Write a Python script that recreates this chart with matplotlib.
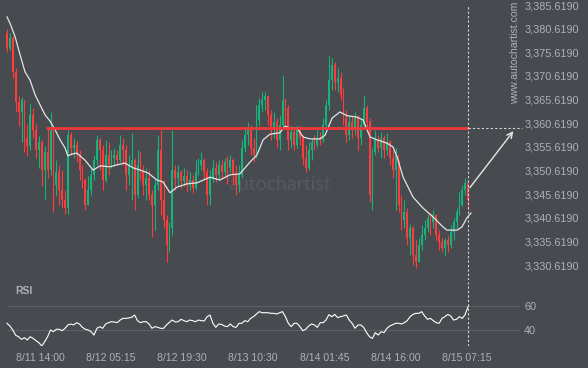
import numpy as np
import matplotlib
matplotlib.use("Agg")
import matplotlib.pyplot as plt

# 15-min style candles (one entry per drawn candle), prices
opens = [3379.7, 3376.5, 3378.6, 3371.5, 3365.1, 3363.0, 3365.5, 3357.5, 3355.8, 3362.4,
         3359.2, 3355.0, 3356.6, 3350.7, 3354.5, 3350.7, 3359.2, 3347.6, 3350.3, 3346.5,
         3344.4, 3342.7, 3358.1, 3355.4, 3356.0, 3353.9, 3350.7, 3348.6, 3343.3, 3346.5,
         3349.7, 3352.8, 3357.1, 3355.0, 3348.6, 3353.9, 3351.8, 3353.3, 3353.9, 3352.8,
         3356.0, 3355.0, 3349.7, 3351.8, 3352.8, 3345.4, 3351.8, 3350.3, 3347.6, 3349.0,
         3345.4, 3343.3, 3347.6, 3355.0, 3344.4, 3340.2, 3334.9, 3338.5, 3350.7, 3349.0,
         3350.3, 3348.4, 3349.5, 3347.6, 3348.6, 3346.9, 3350.3, 3351.8, 3352.8, 3350.3,
         3345.4, 3349.0, 3351.2, 3349.7, 3351.8, 3350.3, 3352.4, 3351.2, 3352.8, 3349.7,
         3347.6, 3349.7, 3355.4, 3358.1, 3359.6, 3355.4, 3353.9, 3361.3, 3364.5, 3365.5,
         3366.4, 3362.4, 3359.2, 3360.9, 3357.1, 3360.2, 3365.5, 3363.8, 3357.1, 3358.8,
         3356.0, 3359.2, 3357.5, 3353.3, 3351.2, 3355.0, 3356.6, 3356.0, 3357.5, 3357.1,
         3360.2, 3364.5, 3369.8, 3372.9, 3369.3, 3370.2, 3366.6, 3361.7, 3358.1, 3360.9,
         3359.2, 3361.7, 3357.5, 3360.2, 3363.8, 3360.9, 3345.4, 3354.5, 3357.1, 3355.4,
         3357.5, 3355.0, 3356.6, 3353.3, 3350.7, 3353.9, 3343.3, 3340.2, 3341.8, 3336.3,
         3338.5, 3332.8, 3331.3, 3334.9, 3337.0, 3338.5, 3340.6, 3339.7, 3341.2, 3337.0,
         3335.5, 3334.2, 3335.9, 3334.9, 3337.6, 3339.7, 3341.8, 3343.3, 3346.5, 3347.9]
closes = [3376.5, 3378.6, 3371.5, 3365.1, 3363.0, 3365.5, 3357.5, 3355.8, 3362.4, 3359.2,
          3355.0, 3356.6, 3350.7, 3354.5, 3350.7, 3359.2, 3347.6, 3350.3, 3346.5, 3344.4,
          3342.7, 3358.1, 3355.4, 3356.0, 3353.9, 3350.7, 3348.6, 3343.3, 3346.5, 3349.7,
          3352.8, 3357.1, 3355.0, 3348.6, 3353.9, 3351.8, 3353.3, 3353.9, 3352.8, 3356.0,
          3355.0, 3349.7, 3351.8, 3352.8, 3345.4, 3351.8, 3350.3, 3347.6, 3349.0, 3345.4,
          3343.3, 3347.6, 3355.0, 3344.4, 3340.2, 3334.9, 3338.5, 3350.7, 3349.0, 3350.3,
          3348.4, 3349.5, 3347.6, 3348.6, 3346.9, 3350.3, 3351.8, 3352.8, 3350.3, 3345.4,
          3349.0, 3351.2, 3349.7, 3351.8, 3350.3, 3352.4, 3351.2, 3352.8, 3349.7, 3347.6,
          3349.7, 3355.4, 3358.1, 3359.6, 3355.4, 3353.9, 3361.3, 3364.5, 3365.5, 3366.4,
          3362.4, 3359.2, 3360.9, 3357.1, 3360.2, 3365.5, 3363.8, 3357.1, 3358.8, 3356.0,
          3359.2, 3357.5, 3353.3, 3351.2, 3355.0, 3356.6, 3356.0, 3357.5, 3357.1, 3360.2,
          3364.5, 3369.8, 3372.9, 3369.3, 3370.2, 3366.6, 3361.7, 3358.1, 3360.9, 3359.2,
          3361.7, 3357.5, 3360.2, 3363.8, 3360.9, 3345.4, 3354.5, 3357.1, 3355.4, 3357.5,
          3355.0, 3356.6, 3353.3, 3350.7, 3353.9, 3343.3, 3340.2, 3341.8, 3336.3, 3338.5,
          3332.8, 3331.3, 3334.9, 3337.0, 3338.5, 3340.6, 3339.7, 3341.2, 3337.0, 3335.5,
          3334.2, 3335.9, 3334.9, 3337.6, 3339.7, 3341.8, 3343.3, 3346.5, 3347.9, 3344.4]
highs = [3380.5, 3379.7, 3379.1, 3372.3, 3366.4, 3366.2, 3365.5, 3360.5, 3364.7, 3363.8,
         3360.5, 3357.9, 3357.1, 3355.8, 3359.6, 3363.0, 3359.6, 3352.8, 3351.8, 3350.7,
         3346.5, 3359.2, 3358.8, 3357.5, 3357.1, 3355.0, 3351.8, 3349.0, 3349.5, 3351.2,
         3353.9, 3358.1, 3357.5, 3356.0, 3357.1, 3356.6, 3355.0, 3355.4, 3355.0, 3358.1,
         3357.5, 3356.0, 3353.9, 3358.6, 3353.3, 3355.0, 3354.5, 3351.8, 3351.2, 3350.7,
         3346.5, 3348.6, 3358.1, 3359.2, 3348.6, 3341.2, 3339.7, 3359.2, 3351.8, 3351.8,
         3350.7, 3351.2, 3350.7, 3350.3, 3349.7, 3352.8, 3353.3, 3354.5, 3353.3, 3351.2,
         3350.7, 3352.8, 3352.4, 3352.8, 3352.8, 3353.3, 3353.7, 3353.9, 3353.3, 3351.8,
         3351.8, 3357.1, 3359.6, 3360.9, 3360.2, 3357.5, 3364.5, 3365.9, 3367.2, 3367.2,
         3365.9, 3363.4, 3363.0, 3361.7, 3362.4, 3370.8, 3365.9, 3364.5, 3360.0, 3359.6,
         3360.2, 3360.0, 3358.1, 3356.0, 3356.6, 3357.5, 3358.1, 3359.2, 3358.8, 3361.7,
         3365.5, 3375.0, 3374.4, 3373.6, 3372.3, 3371.5, 3368.1, 3363.4, 3362.4, 3362.4,
         3363.0, 3362.4, 3361.7, 3366.6, 3364.5, 3361.7, 3355.4, 3359.2, 3358.1, 3358.8,
         3358.1, 3358.6, 3357.1, 3355.0, 3355.4, 3352.8, 3345.4, 3344.4, 3342.7, 3339.3,
         3338.9, 3335.9, 3336.3, 3339.1, 3340.2, 3341.4, 3341.8, 3342.3, 3341.4, 3338.0,
         3336.3, 3336.3, 3336.8, 3339.1, 3340.6, 3342.7, 3346.1, 3347.6, 3349.0, 3347.9]
lows = [3375.7, 3376.1, 3370.2, 3363.0, 3360.0, 3356.6, 3354.5, 3353.7, 3355.0, 3357.5,
        3353.3, 3351.2, 3347.3, 3344.4, 3349.0, 3349.7, 3341.8, 3345.2, 3343.3, 3342.7,
        3341.4, 3341.4, 3353.9, 3353.3, 3352.4, 3348.6, 3346.9, 3342.3, 3343.3, 3345.4,
        3348.6, 3351.8, 3350.7, 3346.5, 3348.2, 3349.7, 3351.2, 3351.6, 3351.8, 3352.4,
        3351.8, 3346.5, 3347.6, 3344.4, 3342.3, 3344.8, 3348.6, 3345.4, 3344.4, 3344.4,
        3336.6, 3338.0, 3346.5, 3341.2, 3338.5, 3331.3, 3333.4, 3337.0, 3346.5, 3347.3,
        3346.9, 3347.3, 3346.1, 3346.5, 3345.9, 3346.5, 3349.7, 3350.7, 3349.0, 3343.3,
        3343.3, 3348.2, 3348.2, 3348.6, 3349.0, 3349.5, 3347.8, 3350.3, 3347.6, 3345.4,
        3346.1, 3349.0, 3354.5, 3356.0, 3353.9, 3352.4, 3353.3, 3360.2, 3363.0, 3363.4,
        3360.2, 3357.1, 3357.5, 3355.4, 3355.0, 3359.6, 3360.2, 3355.0, 3355.4, 3355.0,
        3355.4, 3356.0, 3351.8, 3350.3, 3350.7, 3352.8, 3355.0, 3355.4, 3356.0, 3356.6,
        3359.6, 3363.4, 3367.6, 3367.6, 3367.2, 3365.5, 3360.2, 3356.6, 3357.1, 3357.5,
        3358.1, 3355.0, 3356.0, 3359.6, 3358.8, 3343.9, 3342.3, 3353.9, 3354.5, 3353.3,
        3353.3, 3353.9, 3351.8, 3349.0, 3342.3, 3341.8, 3338.0, 3338.5, 3334.9, 3332.8,
        3330.6, 3330.0, 3331.3, 3333.8, 3335.9, 3337.6, 3337.0, 3338.5, 3335.9, 3333.8,
        3333.4, 3332.5, 3333.4, 3334.2, 3335.9, 3338.5, 3341.2, 3343.1, 3345.4, 3342.3]

# moving average (white line), read as (bar, price) points
ma_bar = [0.0, 1.0, 2.8, 4.5, 6.2, 7.9, 9.7, 11.4, 13.1, 14.8, 16.6, 18.3, 20.0, 21.0, 22.4,
          24.1, 26.9, 29.7, 32.1, 35.5, 37.9, 40.7, 43.4, 45.9, 48.6, 51.7, 53.8, 56.2, 58.6,
          62.1, 65.5, 70.0, 73.4, 76.9, 80.3, 83.8, 86.2, 88.3, 90.7, 94.1, 95.9, 97.6, 100.0,
          102.1, 104.5, 107.9, 109.7, 112.1, 114.8, 117.2, 120.7, 122.8, 125.2, 127.6, 131.0,
          133.1, 134.5, 136.6, 140.0, 143.4, 146.9, 150.3, 151.7, 155.2, 156.9, 158.6, 160.0]
ma_price = [3383.1, 3381.8, 3378.9, 3375.1, 3371.5, 3369.8, 3366.6, 3364.5, 3362.4, 3361.1,
            3359.2, 3357.1, 3355.4, 3353.7, 3354.1, 3354.3, 3352.8, 3350.7, 3351.6, 3351.4,
            3351.8, 3352.2, 3351.2, 3350.7, 3350.1, 3348.6, 3348.2, 3345.9, 3347.1, 3347.8,
            3348.0, 3349.2, 3348.6, 3349.7, 3349.9, 3352.4, 3353.9, 3357.1, 3358.3, 3358.6,
            3360.0, 3359.6, 3359.6, 3357.7, 3357.3, 3357.3, 3358.1, 3361.7, 3363.0, 3362.2,
            3361.9, 3361.3, 3357.7, 3357.1, 3356.4, 3355.6, 3353.5, 3349.2, 3345.0, 3342.7,
            3340.8, 3338.7, 3338.0, 3338.0, 3338.7, 3340.6, 3341.6]

rsi = [45.6, 43.3, 40.0, 35.6, 34.4, 32.2, 33.6, 31.7, 34.4, 33.0,
       31.1, 29.4, 26.7, 30.3, 34.4, 40.0, 38.6, 40.6, 40.6, 39.4,
       41.4, 44.2, 45.0, 44.2, 46.1, 45.0, 42.2, 40.6, 40.0, 38.6,
       35.8, 41.4, 42.8, 41.4, 45.0, 46.1, 46.9, 46.7, 46.1, 48.3,
       49.7, 49.7, 50.0, 50.6, 52.5, 47.8, 46.1, 46.9, 46.9, 45.0,
       41.4, 42.8, 42.2, 41.4, 41.4, 44.2, 46.4, 48.3, 46.7, 46.9,
       48.9, 47.8, 46.9, 48.3, 47.8, 46.9, 48.3, 47.8, 47.5, 51.1,
       52.5, 45.6, 42.2, 45.0, 44.7, 43.3, 42.8, 45.0, 42.8, 42.2,
       45.6, 45.6, 47.8, 46.9, 49.7, 51.1, 53.3, 55.3, 54.4, 54.4,
       54.4, 53.9, 53.9, 53.3, 54.4, 55.3, 51.1, 45.6, 42.8, 45.6,
       45.6, 42.8, 39.4, 40.6, 43.3, 45.0, 44.2, 42.2, 46.1, 46.1,
       48.3, 52.8, 51.1, 53.0, 50.3, 51.1, 51.7, 52.5, 48.3, 45.6,
       41.4, 44.2, 44.2, 42.2, 37.8, 34.4, 33.0, 37.8, 35.8, 38.6,
       37.8, 41.4, 43.3, 44.4, 45.6, 45.6, 45.0, 46.1, 47.8, 51.1,
       53.0, 53.9, 53.9, 55.3, 51.7, 48.9, 49.7, 47.8, 46.1, 45.6,
       49.7, 51.1, 53.0, 51.7, 48.3, 48.9, 51.1, 49.7, 53.0, 59.5]

level = 3359.6
level_start_bar = 13.4
target_bar = 175.2
date_labels = ["8/11 14:00", "8/12 05:15", "8/12 19:30", "8/13 10:30",
               "8/14 01:45", "8/14 16:00", "8/15 07:15"]
date_bars = [11.4, 35.9, 60.3, 84.8, 109.7, 134.1, 158.6]
price_ticks = [3330.619 + 5 * i for i in range(12)]

BG = "#474a4f"
RED = "#ff3b3b"
GREEN = "#13b57a"
TXT = "#aeb1b6"
GRID = "#5d6166"

plt.rcParams["font.family"] = ["Liberation Sans", "DejaVu Sans"]

W, H = 588, 368
fig = plt.figure(figsize=(W / 100, H / 100), dpi=100, facecolor=BG)
ax = fig.add_axes([0, 1 - 280 / H, 520 / W, 280 / H], facecolor=BG)
rax = fig.add_axes([0, 1 - 346 / H, 520 / W, 64 / H], facecolor=BG)

x = np.arange(len(closes))
o = np.array(opens)
c = np.array(closes)
cols = np.where(c >= o, GREEN, RED)

xlim = (-7 / 2.9, 513 / 2.9)
for a in (ax, rax):
    a.set_xlim(*xlim)
    for s in a.spines.values():
        s.set_visible(False)

# candles
ax.vlines(x, lows, highs, colors=cols, lw=0.8, zorder=2)
ax.bar(x, np.maximum(np.abs(c - o), 0.2), bottom=np.minimum(o, c), width=0.62,
       color=cols, linewidth=0, zorder=3)

# MA
ax.plot(ma_bar, ma_price, color="#e4e4e4", lw=0.9, zorder=4)

# resistance level
ax.hlines(level, level_start_bar, x[-1], color="#f0393c", lw=2, zorder=5)
ax.hlines(level, x[-1], target_bar + 2.4, color="#d8d8d8", lw=0.8,
          linestyles=(0, (2, 2)), clip_on=False, zorder=5)
ax.axvline(x[-1], ymin=0, ymax=1 - 5 / 280, color="#d8d8d8", lw=0.8,
           ls=(0, (2, 2)), zorder=5)
ax.annotate("", xy=(target_bar, level - 0.2), xytext=(x[-1], closes[-1] + 2.1),
            arrowprops=dict(arrowstyle="->", color="#e6e6e6", lw=1, mutation_scale=10),
            zorder=6)

ax.set_ylim(3327.45, 3386.68)
ax.yaxis.tick_right()
ax.set_yticks(price_ticks)
ax.set_yticklabels([f"{v:,.4f}" for v in price_ticks])
ax.tick_params(axis="y", length=0, pad=3, labelsize=7.8, labelcolor=TXT)
ax.set_xticks([])

# watermark
ax.text(280 / 520, 1 - 185 / 280, "autochartist", transform=ax.transAxes,
        ha="center", va="center", fontsize=14, color="#56595e",
        family=["Lato", "DejaVu Sans"], zorder=1)
fig.text(515 / W, 1 - 2 / H, "www.autochartist.com", rotation=90, ha="center",
         va="top", fontsize=7.6, color=TXT)

# RSI panel
rax.set_ylim(26.67, 80)
rax.hlines([40, 60], 0, xlim[1], color=GRID, lw=0.8)
rax.plot(x, rsi, color="white", lw=0.8)
rax.axvline(x[-1], color="#d8d8d8", lw=0.8, ls=(0, (2, 2)))
rax.yaxis.tick_right()
rax.set_yticks([40, 60])
rax.tick_params(axis="y", length=0, pad=3, labelsize=7.8, labelcolor=TXT)
rax.set_xticks(date_bars)
rax.set_xticklabels(date_labels)
rax.tick_params(axis="x", length=0, pad=5, labelsize=7.6, labelcolor=TXT)
fig.text(15 / W, 1 - 291 / H, "RSI", ha="left", va="center", fontsize=7.5,
         weight="bold", color=TXT)

fig.savefig("out.png", dpi=100, facecolor=BG)
